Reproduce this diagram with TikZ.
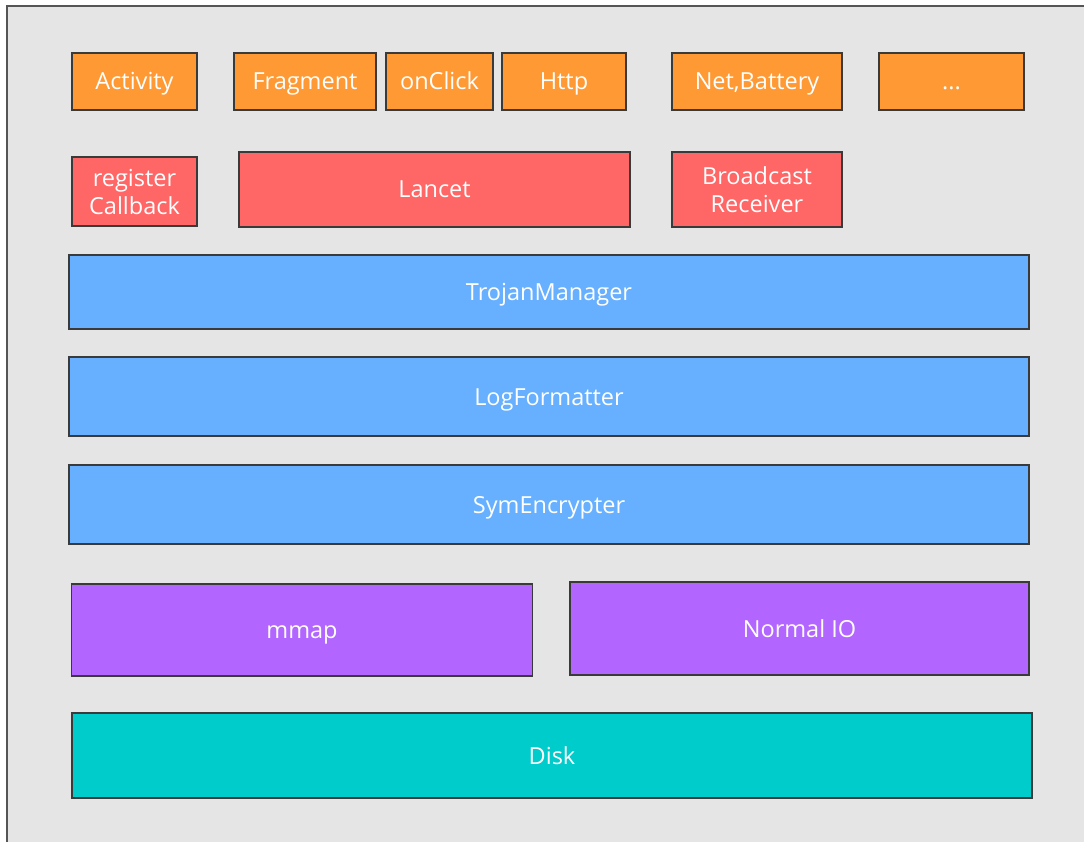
\documentclass[tikz,border=0pt]{standalone}
\usepackage{fontspec}
\setmainfont{Open Sans}
\definecolor{bgc}{HTML}{E5E5E5}
\definecolor{framec}{HTML}{555555}
\definecolor{edgec}{HTML}{3A3A3A}
\definecolor{orng}{HTML}{FF9933}
\definecolor{redc}{HTML}{FF6666}
\definecolor{bluec}{HTML}{66B0FF}
\definecolor{purp}{HTML}{B266FF}
\definecolor{teal2}{HTML}{00CCCC}
\tikzset{
  layer/.style={draw=edgec, line width=1.6pt, text=white, align=center,
    inner sep=0pt, font=\fontsize{23.5}{28}\selectfont},
  one/.style={text height=17pt, text depth=0pt},
  ob/.style={layer, one, fill=orng, minimum height=57pt},
  rb/.style={layer, fill=redc},
  bb/.style={layer, one, fill=bluec, minimum width=960pt},
  pb/.style={layer, one, fill=purp},
}
\begin{document}
\begin{tikzpicture}[x=1pt,y=-1pt]
\useasboundingbox (0,0) rectangle (1084,842);
\fill[white] (0,0) rectangle (1084,842);
\begin{scope}
\clip (0,0) rectangle (1084,842);
\draw[fill=bgc, draw=framec, line width=1.8pt] (7,6) rectangle (1110,870);
\end{scope}
% top row
\node[ob, minimum width=125pt] (act) at (134.5,81.5) {Activity};
\node[ob, minimum width=142pt] (frag) at (305,81.5) {Fragment};
\node[ob, minimum width=107pt] (onc) at (439.5,81.5) {onClick};
\node[ob, minimum width=124pt] (http) at (564,81.5) {Http};
\node[ob, minimum width=170pt] (net) at (757,81.5) {Net,Battery};
\node[ob, minimum width=145pt] (dots) at (951.5,81.5) {...};
% second row
\node[rb, minimum width=125pt, minimum height=69pt] (reg) at (134.5,191.5) {register\\Callback};
\node[rb, one, minimum width=391pt, minimum height=75pt] (lancet) at (434.5,189.5) {Lancet};
\node[rb, minimum width=170pt, minimum height=75pt] (bcast) at (757,189.5) {Broadcast\\Receiver};
% blue layers
\node[bb, minimum height=74pt] (trojan) at (549,292) {TrojanManager};
\node[bb, minimum height=79pt] (logf) at (549,396.5) {LogFormatter};
\node[bb, minimum height=79pt] (sym) at (549,504.5) {SymEncrypter};
% io
\node[pb, minimum width=461pt, minimum height=92pt] (mmap) at (302,630) {mmap};
\node[pb, minimum width=459pt, minimum height=93pt] (nio) at (799.5,628.5) {Normal IO};
% disk
\node[layer, one, fill=teal2, minimum width=960pt, minimum height=85pt] (disk) at (552,755.5) {Disk};
\end{tikzpicture}
\end{document}
